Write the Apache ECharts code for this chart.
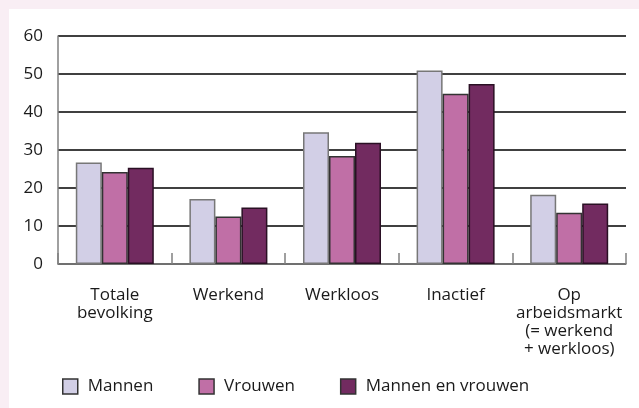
<!DOCTYPE html>
<html>
<head>
<meta charset="utf-8">
<script src="https://cdn.jsdelivr.net/npm/echarts@6/dist/echarts.min.js"></script>
<style>
  html, body { margin: 0; padding: 0; background: #f9eef4; }
  #main { position: absolute; left: 9px; top: 9px; width: 630px; height: 399px; background: #fff; }
</style>
</head>
<body>
<div id="main"></div>
<script>
var myChart = echarts.init(document.getElementById('main'))

var categories = ['Totale\nbevolking', 'Werkend', 'Werkloos', 'Inactief', 'Op\narbeidsmarkt\n(= werkend\n+ werkloos)']
var mannen = [26.7, 17.1, 34.7, 50.9, 18.2]
var vrouwen = [24.2, 12.5, 28.4, 44.8, 13.5]
var mannenEnVrouwen = [25.3, 14.9, 31.9, 47.4, 15.9]
var yTicks = [0, 10, 20, 30, 40, 50, 60]

var font = 'Open Sans'
var colorConfig = ['#d2cfe6', '#c06fa6', '#722b60']
var borderConfig = ['#777777', '#333333', '#2a1024']

function makeSeries(name, values, i) {
  return {
    name: name,
    type: 'bar',
    data: values,
    barWidth: 26,
    barGap: '0%',
    itemStyle: {
      color: colorConfig[i],
      borderColor: borderConfig[i],
      borderWidth: 1.5,
    },
  }
}

var option = {
  animation: false,
  textStyle: { fontFamily: font },
  grid: { left: 49, right: 13, top: 27, bottom: 144 },
  legend: {
    left: 48,
    top: 364,
    itemWidth: 15,
    itemHeight: 15,
    itemGap: 45,
    icon: 'rect',
    itemStyle: { borderColor: '#333', borderWidth: 1.5 },
    textStyle: { fontFamily: font, fontSize: 17, color: '#1a1a1a', padding: [0, 0, 0, 5] },
    data: ['Mannen', 'Vrouwen', 'Mannen en vrouwen'],
  },
  xAxis: {
    type: 'category',
    data: categories,
    axisLine: { lineStyle: { color: '#808080', width: 1.5 } },
    axisTick: { show: true, inside: true, length: 11, interval: 0, lineStyle: { color: '#808080', width: 1.5 } },
    axisLabel: { interval: 0, margin: 22, fontSize: 17, lineHeight: 18, color: '#1a1a1a', fontFamily: font },
  },
  yAxis: {
    type: 'value',
    min: yTicks[0],
    max: yTicks[yTicks.length - 1],
    interval: 10,
    axisLine: { show: true, lineStyle: { color: '#808080', width: 1.5 } },
    axisTick: { show: false },
    axisLabel: { margin: 15, fontSize: 17, color: '#1a1a1a', fontFamily: font },
    splitLine: { lineStyle: { color: '#000', width: 1.5 } },
  },
  series: [
    makeSeries('Mannen', mannen, 0),
    makeSeries('Vrouwen', vrouwen, 1),
    makeSeries('Mannen en vrouwen', mannenEnVrouwen, 2),
  ],
}

myChart.setOption(option)
</script>
</body>
</html>
